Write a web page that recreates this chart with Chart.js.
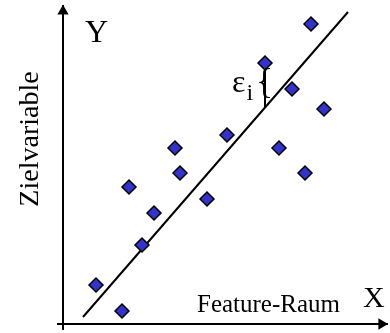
<!DOCTYPE html>
<html lang="de">
<head>
  <meta charset="UTF-8">
  <title>Lineare Regression</title>
  <script src="https://cdn.jsdelivr.net/npm/chart.js"></script>
  <style>
    html, body { margin: 0; padding: 0; background: #fff; }
    canvas { display: block; }
  </style>
</head>
<body>
  <canvas id="chart" width="390" height="333"></canvas>
  <script>
    // data points (feature, target)
    const featureValues = [1.65, 2.95, 3.3, 3.95, 4.55, 5.6, 5.85, 7.2, 8.2, 10.1, 10.8, 11.45, 12.1, 12.4, 13.05];
    const targetValues  = [1.95, 0.65, 6.85, 3.95, 5.55, 8.8, 7.55, 6.25, 9.45, 13.05, 8.8, 11.75, 7.55, 15.0, 10.75];

    // regression line end points
    const lineX = [1.0, 14.25];
    const lineY = [0.35, 15.6];

    // residual epsilon_i (point index 9)
    const residualIndex = 9;

    // axes
    const xAxisX = [-0.3, 16.25];
    const yAxisY = [-0.3, 15.95];
    const xArrowTip = 15.93;
    const yArrowTip = 15.64;

    const lineAt = x => lineY[0] + (x - lineX[0]) * (lineY[1] - lineY[0]) / (lineX[1] - lineX[0]);
    const rx = featureValues[residualIndex];

    // labels drawn in data coordinates
    const labels = [
      { text: 'Y', x: 1.1, y: 14.1, font: '32px "Liberation Serif"' },
      { text: 'X', x: 15.0, y: 0.85, font: '30px "Liberation Serif"' },
      { text: 'Feature-Raum', x: 6.7, y: 0.6, font: '25px "Liberation Serif"' },
      { text: '\u03B5', x: 8.45, y: 11.6, font: '32px "Liberation Serif"' },
      { text: 'i', x: 9.18, y: 11.2, font: '24px "Liberation Serif"' },
      { text: '{', x: 9.65, y: 11.55, font: '36px "Liberation Serif"' }
    ];
    const yTitle = { text: 'Zielvariable', x: -1.25, y: 9.25, font: '28px "Liberation Serif"' };

    const textPlugin = {
      id: 'texts',
      afterDatasetsDraw(chart) {
        const ctx = chart.ctx;
        const sx = chart.scales.x, sy = chart.scales.y;
        ctx.save();
        ctx.fillStyle = '#000';
        ctx.textBaseline = 'alphabetic';
        ctx.textAlign = 'left';
        labels.forEach(l => {
          ctx.font = l.font;
          ctx.fillText(l.text, sx.getPixelForValue(l.x), sy.getPixelForValue(l.y));
        });
        ctx.font = yTitle.font;
        ctx.textAlign = 'center';
        ctx.translate(sx.getPixelForValue(yTitle.x), sy.getPixelForValue(yTitle.y));
        ctx.rotate(-Math.PI / 2);
        ctx.fillText(yTitle.text, 0, 0);
        ctx.restore();
      }
    };

    new Chart(document.getElementById('chart'), {
      type: 'scatter',
      data: {
        datasets: [
          {
            label: 'Daten',
            data: featureValues.map((x, i) => ({ x: x, y: targetValues[i] })),
            pointStyle: 'rectRot',
            pointRadius: 7,
            backgroundColor: '#3333cc',
            borderColor: '#000',
            borderWidth: 1.5
          },
          {
            label: 'Pfeile',
            data: [{ x: xArrowTip, y: 0 }, { x: 0, y: yArrowTip }],
            pointStyle: 'triangle',
            pointRadius: 6.5,
            rotation: [90, 0],
            backgroundColor: '#000',
            borderColor: '#000',
            borderWidth: 0
          },
          {
            label: 'Residuum',
            data: [{ x: rx, y: targetValues[residualIndex] }, { x: rx, y: lineAt(rx) }],
            showLine: true,
            pointRadius: 0,
            borderColor: '#000',
            borderWidth: 2
          },
          {
            label: 'Regression',
            data: [{ x: lineX[0], y: lineY[0] }, { x: lineX[1], y: lineY[1] }],
            showLine: true,
            pointRadius: 0,
            borderColor: '#000',
            borderWidth: 2
          },
          {
            label: 'X-Achse',
            data: [{ x: xAxisX[0], y: 0 }, { x: xAxisX[1], y: 0 }],
            showLine: true,
            pointRadius: 0,
            borderColor: '#000',
            borderWidth: 2
          },
          {
            label: 'Y-Achse',
            data: [{ x: 0, y: yAxisY[0] }, { x: 0, y: yAxisY[1] }],
            showLine: true,
            pointRadius: 0,
            borderColor: '#000',
            borderWidth: 2
          }
        ]
      },
      options: {
        responsive: false,
        animation: false,
        devicePixelRatio: 1,
        layout: { padding: 0, autoPadding: false },
        clip: false,
        plugins: {
          legend: { display: false },
          tooltip: { enabled: false }
        },
        scales: {
          x: { type: 'linear', min: -3.15, max: 16.35, display: false },
          y: { type: 'linear', min: -0.45, max: 16.2, display: false }
        }
      },
      plugins: [textPlugin]
    });
  </script>
</body>
</html>
